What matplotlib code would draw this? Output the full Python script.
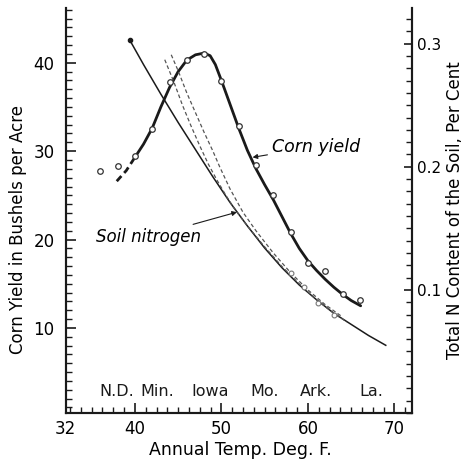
import matplotlib
matplotlib.use("Agg")
import matplotlib.pyplot as plt
from matplotlib.ticker import FixedLocator, MultipleLocator

# corn yield, bushels per acre, plotted every 2 deg F
corn_t = [36, 38, 40, 42, 44, 46, 48, 50, 52, 54, 56, 58, 60, 62, 64, 66]
corn_y = [27.7, 28.3, 29.4, 32.5, 37.8, 40.3, 41.0, 37.9, 32.9, 28.45, 25.05,
          20.9, 17.4, 16.4, 13.8, 13.2]

# smoothed corn yield curve
curve_t = [37.9, 39.0, 40.0, 41.0, 42.0, 43.0, 44.0, 45.0, 46.0, 47.0, 48.0,
           48.7, 49.3, 50.0, 51.0, 52.0, 53.0, 54.0, 55.0, 56.0, 57.0, 58.0,
           59.0, 60.0, 61.0, 62.0, 63.0, 64.0, 65.0, 66.1]
curve_y = [26.6, 27.8, 29.3, 30.8, 32.6, 35.0, 37.2, 39.0, 40.3, 40.9, 41.1,
           40.8, 39.8, 38.0, 35.3, 32.6, 30.1, 28.0, 26.2, 24.5, 22.6, 20.7,
           19.0, 17.6, 16.5, 15.5, 14.6, 13.8, 13.1, 12.5]

# total soil nitrogen, per cent
nitro_t = [39.4, 41.0, 43.0, 45.0, 47.0, 49.0, 51.0, 53.0, 55.0, 57.0, 59.0,
           61.0, 63.0, 65.0, 67.0, 69.0]
nitro_n = [0.303, 0.283, 0.259, 0.236, 0.214, 0.192, 0.171, 0.152, 0.134,
           0.118, 0.104, 0.092, 0.081, 0.072, 0.063, 0.055]

nitro_a_t = [43.45, 44.5, 45.5, 46.5, 47.5, 48.5, 49.5, 50.5, 51.5, 53.0, 55.0,
             57.0, 59.0, 61.0, 63.0, 64.5]
nitro_a_n = [0.287, 0.269, 0.250, 0.233, 0.217, 0.202, 0.189, 0.177, 0.166,
             0.152, 0.135, 0.119, 0.105, 0.092, 0.081, 0.074]

nitro_b_t = [44.2, 45.0, 46.0, 47.0, 48.0, 49.0, 49.8, 51.0, 52.5, 54.0, 56.0,
             58.0, 60.0, 62.0, 64.0]
nitro_b_n = [0.291, 0.278, 0.260, 0.244, 0.228, 0.213, 0.200, 0.182, 0.163,
             0.148, 0.130, 0.114, 0.100, 0.088, 0.078]

nitro_pts_t = [58.0, 59.6, 61.2, 63.0]
nitro_pts_n = [0.114, 0.102, 0.089, 0.080]

states = ["N.D.", "Min.", "Iowa", "Mo.", "Ark.", "La."]
state_t = [37.9, 42.6, 48.7, 55.0, 60.9, 67.3]

plt.rcParams["font.family"] = "DejaVu Sans"
plt.rcParams["font.size"] = 12

fig = plt.figure(figsize=(4.66, 4.59), dpi=100)
ax = fig.add_axes([0.141, 0.1002, 0.7425, 0.8824])
ax2 = ax.twinx()

ax.set_xlim(32, 72)
ax.set_ylim(0.37, 46.2)
ax2.set_ylim(0, 0.329)

ink = "#1a1a1a"

# corn yield: dashed start, heavy solid line after 40 deg
split = curve_t.index(40.0) + 1
ax.plot(curve_t[:split], curve_y[:split], color=ink, lw=2.0, ls=(0, (2.5, 1.5)))
ax.plot(curve_t[split - 1:], curve_y[split - 1:], color=ink, lw=2.0,
        solid_capstyle="round")
ax.scatter(corn_t, corn_y, s=16, facecolors="white", edgecolors="#333333",
           linewidths=0.9, zorder=5)

# soil nitrogen lines
ax2.plot(nitro_t, nitro_n, color=ink, lw=1.1)
ax2.plot(nitro_t[:1], nitro_n[:1], "o", ms=3, color=ink)
ax2.plot(nitro_a_t, nitro_a_n, color="#555555", lw=0.9, ls=(0, (3, 2)))
ax2.plot(nitro_b_t, nitro_b_n, color="#555555", lw=0.9, ls=(0, (3, 2)))
ax2.scatter(nitro_pts_t, nitro_pts_n, s=12, facecolors="white",
            edgecolors="#777777", linewidths=0.8, zorder=4)

# curve labels
ax.annotate("Corn yield", xy=(53.6, 29.3), xytext=(55.8, 30.5),
            fontsize=12.5, style="italic", va="center", ha="left",
            arrowprops=dict(arrowstyle="-|>", color=ink, lw=0.8,
                            mutation_scale=7, shrinkA=1, shrinkB=0))
ax.annotate("Soil nitrogen", xy=(51.8, 23.1), xytext=(47.6, 20.3),
            fontsize=12, style="italic", va="center", ha="right",
            arrowprops=dict(arrowstyle="-|>", color=ink, lw=0.8,
                            mutation_scale=7, shrinkA=2, shrinkB=0))

for name, t in zip(states, state_t):
    ax.text(t, 2.75, name, ha="center", va="center", fontsize=11.5, color=ink)

# spines and ticks
for a in (ax, ax2):
    a.spines["top"].set_visible(False)
    for s in ("left", "right", "bottom"):
        a.spines[s].set_linewidth(1.5)
        a.spines[s].set_color(ink)

ax.xaxis.set_major_locator(FixedLocator([32, 40, 50, 60, 70]))
ax.xaxis.set_minor_locator(MultipleLocator(1.25))
ax.yaxis.set_major_locator(FixedLocator([10, 20, 30, 40]))
ax.yaxis.set_minor_locator(MultipleLocator(1))
ax2.yaxis.set_major_locator(FixedLocator([0.1, 0.2, 0.3]))
ax2.yaxis.set_minor_locator(MultipleLocator(0.01))

ax.tick_params(axis="both", which="major", direction="in", length=7,
               width=1.2, color=ink, labelsize=12)
ax.tick_params(axis="both", which="minor", direction="in", length=4,
               width=1.0, color=ink)
ax.tick_params(axis="x", which="both", pad=5)
ax.tick_params(axis="y", which="both", pad=8)
ax2.tick_params(axis="y", which="major", direction="in", length=6,
                width=1.2, color=ink, labelsize=11, pad=4)
ax2.tick_params(axis="y", which="minor", direction="in", length=4,
                width=1.0, color=ink)
ax2.set_yticklabels(["0.1", "0.2", "0.3"])

fig.text(18 / 466, 1 - 230 / 459, "Corn Yield in Bushels per Acre",
         rotation=90, ha="center", va="center", fontsize=12)
fig.text(455 / 466, 1 - 210 / 459, "Total N Content of the Soil, Per Cent",
         rotation=90, ha="center", va="center", fontsize=12)
fig.text(240 / 466, 1 - 450 / 459, "Annual Temp. Deg. F.",
         ha="center", va="center", fontsize=12.5)

fig.savefig("out.png", dpi=100)
